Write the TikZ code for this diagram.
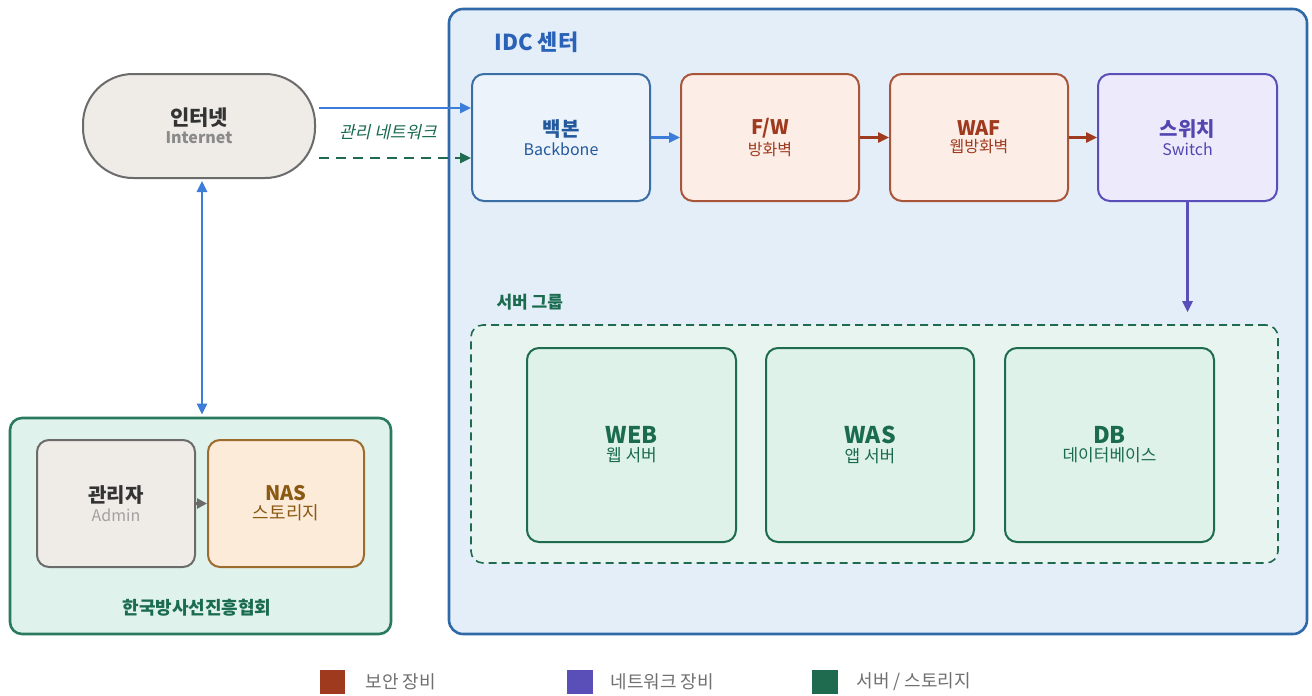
\documentclass[tikz,border=0pt]{standalone}
\usepackage{fontspec}
\setmainfont{Noto Sans CJK KR}
\newfontfamily\slantkr[FakeSlant=0.22]{Noto Sans CJK KR}
\usetikzlibrary{arrows.meta,calc}
\definecolor{bluearr}{HTML}{3B7DD8}
\definecolor{idcfill}{HTML}{E4EEF8}
\definecolor{idcline}{HTML}{2F69A8}
\definecolor{idctext}{HTML}{2A62B8}
\definecolor{bbline}{HTML}{3A6EA5}
\definecolor{bbtext}{HTML}{24599E}
\definecolor{secline}{HTML}{A8553A}
\definecolor{secfill}{HTML}{FCEEE7}
\definecolor{sectext}{HTML}{A03A1E}
\definecolor{netline}{HTML}{5A4FB8}
\definecolor{netfill}{HTML}{EDEBFB}
\definecolor{nettext}{HTML}{5246B0}
\definecolor{grnline}{HTML}{1E6B50}
\definecolor{grnfill}{HTML}{DFF2E9}
\definecolor{grnback}{HTML}{E8F4EF}
\definecolor{grntext}{HTML}{1A6B4F}
\definecolor{orgfill}{HTML}{E0F2EC}
\definecolor{orgline}{HTML}{2A7A5E}
\definecolor{gryline}{HTML}{6B6B6B}
\definecolor{gryfill}{HTML}{EFECE7}
\definecolor{nasline}{HTML}{9C6B2E}
\definecolor{nasfill}{HTML}{FCEBD8}
\definecolor{nastext}{HTML}{8A5A14}
\definecolor{legtext}{HTML}{707070}
\definecolor{subgray}{HTML}{8A8A8A}
\definecolor{darkgray}{HTML}{333333}
\tikzset{
  box/.style={rectangle,rounded corners=12pt,line width=2pt,inner sep=0pt,align=center},
  arr/.style={line width=2.5pt,-{Triangle[length=11pt,width=10pt]}},
}
\newcommand{\twol}[4]{\fontsize{#1}{#1}\selectfont\bfseries #3\\[3pt]\fontsize{#2}{#2}\selectfont\mdseries #4}
\begin{document}
\begin{tikzpicture}[x=1pt,y=-1pt]
\path[use as bounding box,fill=white] (0,0) rectangle (1312,696);
% IDC container
\node[box,draw=idcline,fill=idcfill,line width=2.6pt,rounded corners=14pt,minimum width=858pt,minimum height=625pt] (idc) at (878,321.5) {};
\node[anchor=west,text=idctext,font=\bfseries\fontsize{22}{26}\selectfont] (idct) at (491,42) {IDC 센터};
% Internet
\node[box,draw=gryline,fill=gryfill,rounded corners=50pt,minimum width=232pt,minimum height=104pt,text=darkgray] (inet) at (199,126) {\twol{21}{16}{인터넷}{\color{subgray}\bfseries Internet}};
% Row boxes
\node[box,draw=bbline,fill=idcfill!70!white,minimum width=178pt,minimum height=127pt,text=bbtext] (bb) at (561,137.5) {\twol{20}{16}{백본}{Backbone}};
\node[box,draw=secline,fill=secfill,minimum width=178pt,minimum height=127pt,text=sectext] (fw) at (770,137.5) {\twol{20}{16}{F/W}{방화벽}};
\node[box,draw=secline,fill=secfill,minimum width=178pt,minimum height=127pt,text=sectext] (waf) at (979,137.5) {\twol{20}{16}{WAF}{웹방화벽}};
\node[box,draw=netline,fill=netfill,minimum width=179pt,minimum height=127pt,text=nettext] (sw) at (1187.5,137.5) {\twol{20}{16}{스위치}{Switch}};
% arrows internet -> backbone
\coordinate (m1) at ([xshift=3pt,yshift=18pt]inet.east);
\coordinate (m2) at ([xshift=3pt,yshift=-32pt]inet.east);
\draw[arr,bluearr] (m1) -- (m1 -| bb.west);
\draw[arr,grnline,dash pattern=on 10pt off 7pt] (m2) -- (m2 -| bb.west);
\node[text=grntext,font=\slantkr\fontsize{17}{20}\selectfont] (mgmt) at (388,132) {관리 네트워크};
\draw[arr,bluearr] (bb) -- (fw);
\draw[arr,sectext] (fw) -- (waf);
\draw[arr,sectext] (waf) -- (sw);
% server group
\node[rectangle,rounded corners=12pt,draw=grnline,fill=grnback,dash pattern=on 8pt off 5pt,line width=1.6pt,minimum width=807pt,minimum height=238pt,inner sep=0pt] (grp) at (874.5,444) {};
\node[anchor=west,text=grntext,font=\bfseries\fontsize{17}{20}\selectfont] (grpt) at (493,302) {서버 그룹};
\coordinate (sw1) at ([yshift=12pt]sw.south |- grp.north);
\draw[arr,netline] (sw.south) -- (sw1);
\node[box,draw=grnline,fill=grnfill,minimum width=209pt,minimum height=194pt,text=grntext] (web) at (631.5,445) {\twol{23}{17}{WEB}{웹 서버}};
\node[box,draw=grnline,fill=grnfill,minimum width=208pt,minimum height=194pt,text=grntext] (was) at (870,445) {\twol{23}{17}{WAS}{앱 서버}};
\node[box,draw=grnline,fill=grnfill,minimum width=209pt,minimum height=194pt,text=grntext] (db) at (1109.5,445) {\twol{23}{17}{DB}{데이터베이스}};
% org box
\node[box,draw=orgline,fill=orgfill,line width=2.6pt,minimum width=381pt,minimum height=216pt] (org) at (200.5,526) {};
\node[text=grntext,font=\bfseries\fontsize{18}{20}\selectfont] (orgt) at (197,608) {한국방사선진흥협회};
\node[box,draw=gryline,fill=gryfill,minimum width=158pt,minimum height=127pt,text=darkgray] (adm) at (116,503.5) {\twol{20}{16}{관리자}{\color{subgray!80}Admin}};
\node[box,draw=nasline,fill=nasfill,minimum width=156pt,minimum height=127pt,text=nastext] (nas) at (286,503.5) {\twol{20}{18}{NAS}{스토리지}};
\draw[line width=2.5pt,gryline,-{Triangle[length=10pt,width=10pt]}] (adm) -- (nas);
% bidirectional
\coordinate (b1) at ([xshift=3pt,yshift=-2pt]inet.south);
\coordinate (b2) at ([yshift=2pt]b1 |- org.north);
\draw[line width=2.5pt,bluearr,{Triangle[length=11pt,width=10pt]}-{Triangle[length=11pt,width=10pt]}] (b1) -- (b2);
% legend
\node[fill=sectext,minimum width=25pt,minimum height=24pt,inner sep=0pt] (l1) at (332.5,682) {};
\node[anchor=west,text=legtext,font=\fontsize{18}{20}\selectfont] (l1t) at (362,682) {보안 장비};
\node[fill=netline,minimum width=26pt,minimum height=24pt,inner sep=0pt] (l2) at (580,682) {};
\node[anchor=west,text=legtext,font=\fontsize{18}{20}\selectfont] (l2t) at (607,682) {네트워크 장비};
\node[fill=grnline,minimum width=26pt,minimum height=24pt,inner sep=0pt] (l3) at (825,682) {};
\node[anchor=west,text=legtext,font=\fontsize{18}{20}\selectfont] (l3t) at (853,682) {서버 / 스토리지};
\end{tikzpicture}
\end{document}
